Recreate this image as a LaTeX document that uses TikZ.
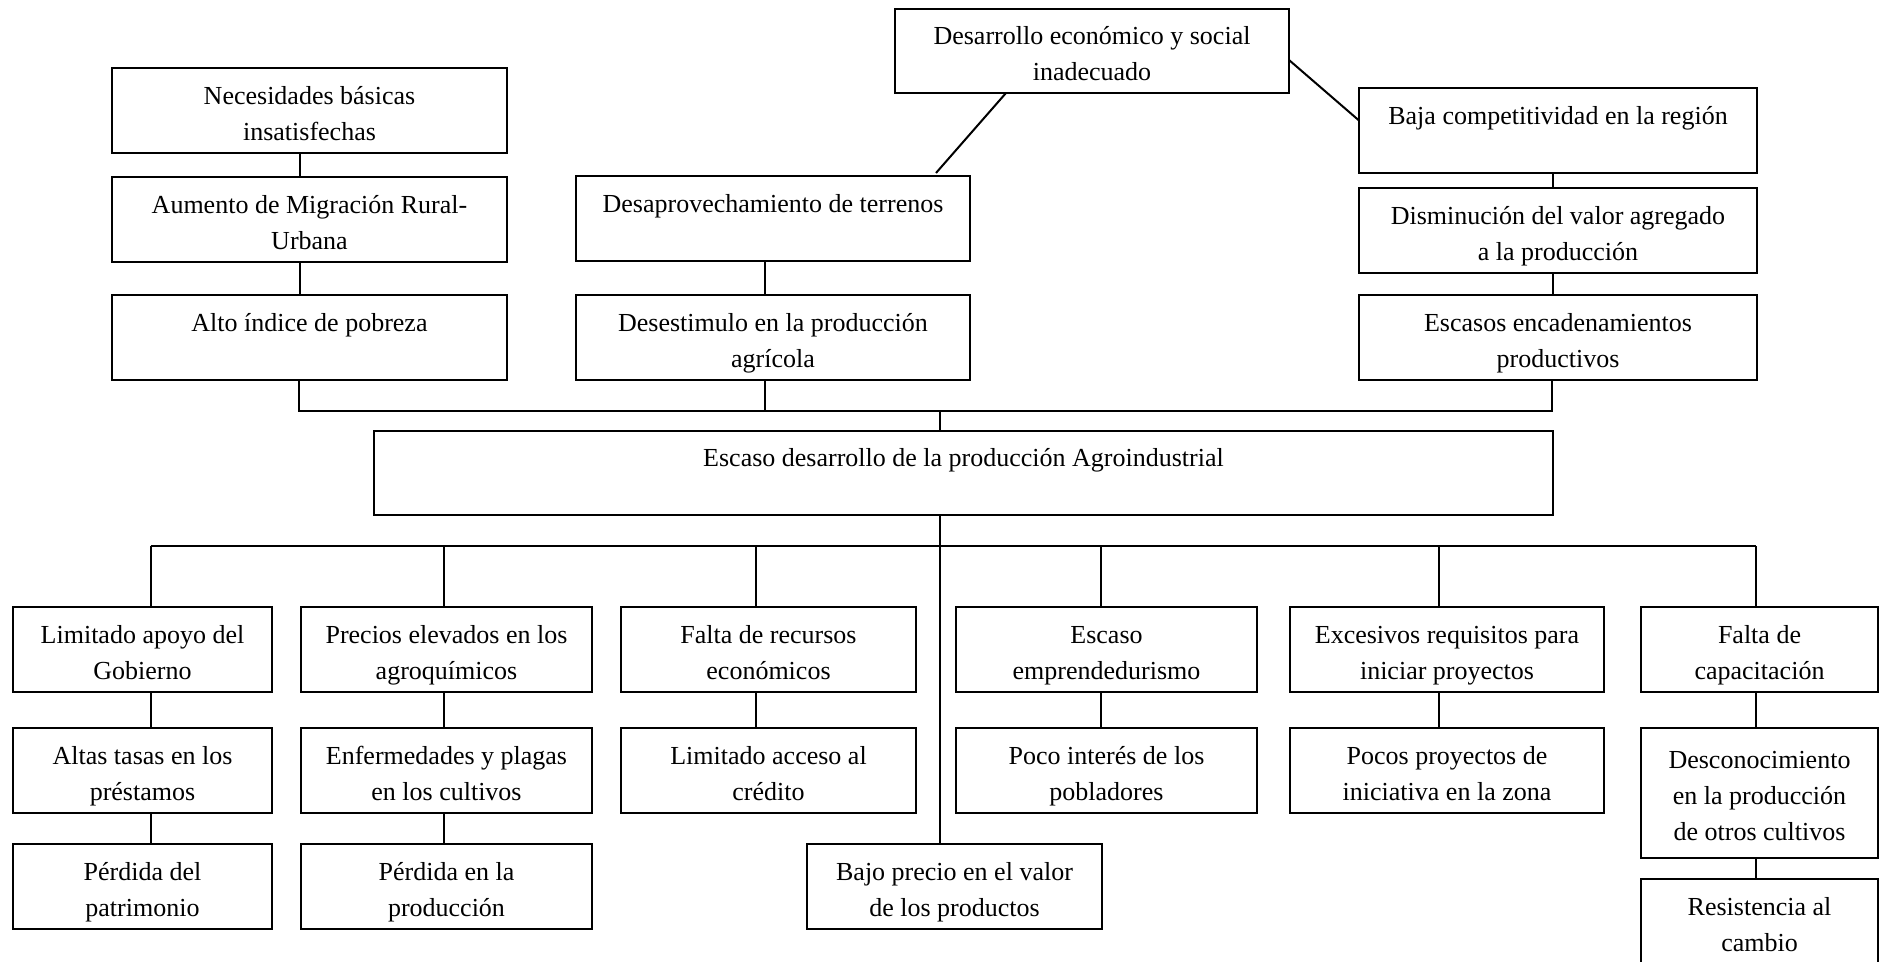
\documentclass[tikz,border=0pt]{standalone}
\usepackage{fontspec}
\setmainfont{Liberation Serif}
\usepackage{tikz}
\usetikzlibrary{positioning}
\tikzstyle{causa}=[draw,line width=2.2pt,outer sep=0pt,inner sep=0pt,align=center,minimum width=395pt,minimum height=85pt,font=\fontsize{26}{36}\selectfont]
\tikzstyle{enlace}=[line width=2pt]
\newcommand{\renglon}{\rule[-6.5pt]{0pt}{36pt}}
\newcommand{\caja}[3][]{
  \node [causa, #1] (#2) {#3}
}

\begin{document}
\begin{tikzpicture}[x=1pt,y=1pt]
        \useasboundingbox (0,0) rectangle (1879,-961);
        \caja[at={(963.5,-473)}, minimum width=1179pt, minimum height=84pt]{problema}{\renglon Escaso desarrollo de la producción Agroindustrial\\\renglon};
        \caja[above left=51pt and -133pt of problema]{pobreza}{\renglon Alto índice de pobreza\\\renglon};
        \caja[above=33pt of pobreza]{migracion}{\renglon Aumento de Migración Rural-\\\renglon Urbana};
        \caja[above=24pt of migracion]{necesidades}{\renglon Necesidades básicas\\\renglon insatisfechas};
        \caja[right=69pt of pobreza, minimum width=394pt]{desestimulo}{\renglon Desestimulo en la producción\\\renglon agrícola};
        \caja[above=34pt of desestimulo, minimum width=394pt]{terrenos}{\renglon Desaprovechamiento de terrenos\\\renglon};
        \caja[above right=83pt and -75pt of terrenos, minimum width=394pt, minimum height=84pt]{desarrollo}{\renglon Desarrollo económico y social\\\renglon inadecuado};
        \caja[above right=51pt and -194pt of problema, minimum width=398pt]{encadenamientos}{\renglon Escasos encadenamientos\\\renglon productivos};
        \caja[above=22pt of encadenamientos, minimum width=398pt]{valor}{\renglon Disminución del valor agregado\\\renglon a la producción};
        \caja[above=15pt of valor, minimum width=398pt]{competitividad}{\renglon Baja competitividad en la región\\\renglon};

        \caja[below left=92pt and 102pt of problema, minimum width=259pt]{gobierno}{\renglon Limitado apoyo del\\\renglon Gobierno};
        \caja[right=29pt of gobierno, minimum width=291pt]{precios}{\renglon Precios elevados en los\\\renglon agroquímicos};
        \caja[right=29pt of precios, minimum width=295pt]{recursos}{\renglon Falta de recursos\\\renglon económicos};
        \caja[right=40pt of recursos, minimum width=301pt]{emprendedurismo}{\renglon Escaso\\\renglon emprendedurismo};
        \caja[right=33pt of emprendedurismo, minimum width=314pt]{requisitos}{\renglon Excesivos requisitos para\\\renglon iniciar proyectos};
        \caja[right=37pt of requisitos, minimum width=237pt]{capacitacion}{\renglon Falta de\\\renglon capacitación};
         \caja[below=36pt of gobierno, minimum width=259pt]{tasas}{\renglon Altas tasas en los\\\renglon préstamos};
         \caja[below=36pt of precios, minimum width=291pt]{plagas}{\renglon Enfermedades y plagas\\\renglon en los cultivos};
         \caja[below=36pt of recursos, minimum width=295pt]{credito}{\renglon Limitado acceso al\\\renglon crédito};
         \caja[below=36pt of emprendedurismo, minimum width=301pt]{interes}{\renglon Poco interés de los\\\renglon pobladores};
         \caja[below=36pt of requisitos, minimum width=314pt]{proyectos}{\renglon Pocos proyectos de\\\renglon iniciativa en la zona};
         \caja[below=36pt of capacitacion, minimum width=237pt, minimum height=130pt]{desconocimiento}{\renglon Desconocimiento\\\renglon en la producción\\\renglon de otros cultivos};
          \caja[below=31pt of tasas, minimum width=259pt]{patrimonio}{\renglon Pérdida del\\\renglon patrimonio};
          \caja[below=31pt of plagas, minimum width=291pt]{perdida}{\renglon Pérdida en la\\\renglon producción};
          \caja[below right=31pt and -109pt of credito, minimum width=295pt]{precio}{\renglon Bajo precio en el valor\\\renglon de los productos};
          \caja[below=21pt of desconocimiento, minimum width=237pt]{resistencia}{\renglon Resistencia al\\\renglon cambio};

        \coordinate (arriba) at ([yshift=20pt]problema.north);
        \coordinate (abajo) at ([yshift=-31pt]problema.south);

      \draw[enlace] ([xshift=-10pt]necesidades.south) -- ([xshift=-10pt]migracion.north);
      \draw[enlace] ([xshift=-10pt]migracion.south) -- ([xshift=-10pt]pobreza.north);
      \draw[enlace] ([xshift=-8pt]terrenos.south) -- ([xshift=-8pt]desestimulo.north);
      \draw[enlace] ([xshift=-5pt]competitividad.south) -- ([xshift=-5pt]valor.north);
      \draw[enlace] ([xshift=-5pt]valor.south) -- ([xshift=-5pt]encadenamientos.north);
      \draw[enlace] ([xshift=111pt]desarrollo.south west) -- ([xshift=-34pt,yshift=3pt]terrenos.north east);
      \draw[enlace] ([yshift=-9pt]desarrollo.east) -- ([yshift=10pt]competitividad.west);
      \draw[enlace] ([xshift=-11pt]pobreza.south) -- ([xshift=-11pt]pobreza.south |- arriba) -- ([xshift=-6pt]encadenamientos.south |- arriba) -- ([xshift=-6pt]encadenamientos.south);
      \draw[enlace] ([xshift=-8pt]desestimulo.south) -- ([xshift=-8pt]desestimulo.south |- arriba);
      \draw[enlace] ([xshift=-24pt]problema.north) -- ([xshift=-24pt]arriba);

      \draw[enlace] ([xshift=-24pt]problema.south) -- ([xshift=-24pt]problema.south |- precio.north);
      \draw[enlace] ([xshift=8pt]gobierno.north |- abajo) -- ([xshift=-4pt]capacitacion.north |- abajo);
      \draw[enlace] ([xshift=8pt]gobierno.north) -- ([xshift=8pt]gobierno.north |- abajo);
      \draw[enlace] ([xshift=-3pt]precios.north) -- ([xshift=-3pt]precios.north |- abajo);
      \draw[enlace] ([xshift=-13pt]recursos.north) -- ([xshift=-13pt]recursos.north |- abajo);
      \draw[enlace] ([xshift=-6pt]emprendedurismo.north) -- ([xshift=-6pt]emprendedurismo.north |- abajo);
      \draw[enlace] ([xshift=-8pt]requisitos.north) -- ([xshift=-8pt]requisitos.north |- abajo);
      \draw[enlace] ([xshift=-4pt]capacitacion.north) -- ([xshift=-4pt]capacitacion.north |- abajo);

      \draw[enlace] ([xshift=8pt]gobierno.south) -- ([xshift=8pt]tasas.north);
      \draw[enlace] ([xshift=8pt]tasas.south) -- ([xshift=8pt]patrimonio.north);
      \draw[enlace] ([xshift=-3pt]precios.south) -- ([xshift=-3pt]plagas.north);
      \draw[enlace] ([xshift=-3pt]plagas.south) -- ([xshift=-3pt]perdida.north);
      \draw[enlace] ([xshift=-13pt]recursos.south) -- ([xshift=-13pt]credito.north);
      \draw[enlace] ([xshift=-6pt]emprendedurismo.south) -- ([xshift=-6pt]interes.north);
      \draw[enlace] ([xshift=-8pt]requisitos.south) -- ([xshift=-8pt]proyectos.north);
      \draw[enlace] ([xshift=-4pt]capacitacion.south) -- ([xshift=-4pt]desconocimiento.north);
      \draw[enlace] ([xshift=-4pt]desconocimiento.south) -- ([xshift=-4pt]resistencia.north);
\end{tikzpicture}
\end{document}
